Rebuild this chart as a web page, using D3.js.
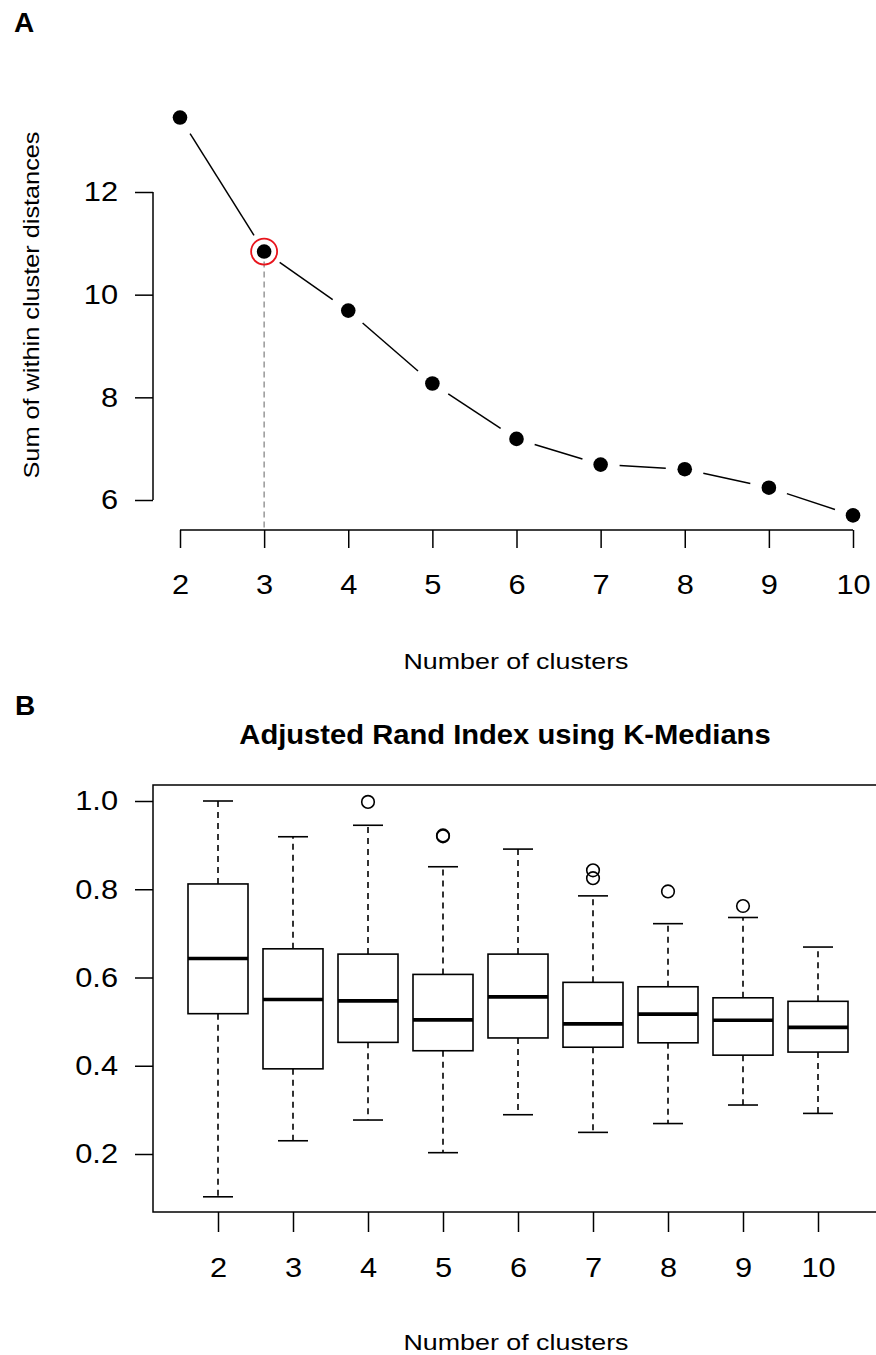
<!DOCTYPE html>
<html>
<head>
<meta charset="utf-8">
<script src="https://cdn.jsdelivr.net/npm/d3@7/dist/d3.min.js"></script>
<style>
    body { margin: 0; background: #fff; }
    svg text { font-family: "Liberation Sans", Arial, sans-serif; fill: #000; }
</style>
</head>
<body>
<svg id="fig" width="876" height="1355"></svg>
<script>
(function () {
    'use strict';

    // --- Data ------------------------------------------------------------

    // panel A: elbow curve
    var clusters = [2, 3, 4, 5, 6, 7, 8, 9, 10];
    var withinDist = [13.45, 10.84, 9.69, 8.27, 7.19, 6.69, 6.60, 6.24, 5.70];
    var chosenK = 3;
    var yTicksA = [6, 8, 10, 12];

    // panel B: adjusted rand index boxplots, one entry per cluster count
    var whiskLow = [0.103, 0.230, 0.277, 0.203, 0.289, 0.249, 0.269, 0.311, 0.292];
    var q1 = [0.518, 0.393, 0.453, 0.434, 0.463, 0.442, 0.452, 0.424, 0.431];
    var medians = [0.643, 0.550, 0.547, 0.504, 0.556, 0.495, 0.517, 0.503, 0.487];
    var q3 = [0.812, 0.665, 0.653, 0.607, 0.653, 0.589, 0.579, 0.554, 0.546];
    var whiskHigh = [1.0, 0.919, 0.945, 0.851, 0.891, 0.785, 0.722, 0.736, 0.669];
    var outliers = [[], [], [0.998], [0.920, 0.922], [], [0.843, 0.825], [0.795], [0.762], []];
    var yTicksB = [0.2, 0.4, 0.6, 0.8, 1.0];

    var svg = d3.select('#fig');

    // --- Helpers ---------------------------------------------------------

    // the figure's lettering is a little wider than plain Arial,
    // so stretch horizontally around each text's own anchor
    function stretch(sel, sx) {
        sel.each(function () {
            var t = d3.select(this),
                x0 = +t.attr('x') || 0;
            t.attr('transform', 'translate(' + (x0 * (1 - sx)) + ',0) scale(' + sx + ',1)');
        });
    }

    function styleTicks(axisG, size, sx) {
        axisG.attr('font-family', null).attr('font-size', null);
        axisG.selectAll('.tick line').attr('stroke-width', 1.5);
        axisG.selectAll('.tick text').style('font-size', size + 'px');
        stretch(axisG.selectAll('.tick text'), sx);
    }

    // --- Panel A ---------------------------------------------------------

    function drawPanelA() {
        var g = svg.append('g').attr('id', 'panelA'),
            x = d3.scaleLinear().domain([2, 10]).range([180, 853]),
            y = d3.scaleLinear().domain([6, 12]).range([500, 192]),
            pts = clusters.map(function (k, i) {
                return { k: k, x: x(k), y: y(withinDist[i]) };
            }),
            gap = 19,
            segs = [];

        g.append('text').text('A')
            .attr('x', 14).attr('y', 32)
            .style('font-size', '28px').style('font-weight', 'bold');

        // y axis (line only spans the ticks, like R)
        var ya = g.append('g').attr('transform', 'translate(153,0)')
            .call(d3.axisLeft(y).tickValues(yTicksA).tickSize(18).tickPadding(17)
                .tickFormat(d3.format('d')));
        ya.select('.domain').remove();
        ya.append('line').attr('y1', y(6)).attr('y2', y(12))
            .attr('stroke', '#000').attr('stroke-width', 1.5);
        styleTicks(ya, 28, 1.1);

        var xa = g.append('g').attr('transform', 'translate(0,530)')
            .call(d3.axisBottom(x).tickValues(clusters).tickSize(18).tickPadding(26)
                .tickFormat(d3.format('d')));
        xa.select('.domain').remove();
        xa.append('line').attr('x1', x(2)).attr('x2', x(10))
            .attr('stroke', '#000').attr('stroke-width', 1.5);
        styleTicks(xa, 28, 1.1);

        var xt = g.append('text').text('Number of clusters')
            .attr('x', 516).attr('y', 669).attr('text-anchor', 'middle')
            .style('font-size', '22px');
        stretch(xt, 1.22);

        g.append('text').text('Sum of within cluster distances')
            .attr('transform', 'translate(39,305) rotate(-90) scale(1.15,1)')
            .attr('text-anchor', 'middle')
            .style('font-size', '22px');

        // dashed guide from the chosen k down to the axis
        var ci = clusters.indexOf(chosenK);
        g.append('line')
            .attr('x1', x(chosenK)).attr('x2', x(chosenK))
            .attr('y1', pts[ci].y).attr('y2', 530)
            .attr('stroke', '#888').attr('stroke-width', 1.3)
            .attr('stroke-dasharray', '6,4');

        // type="b" : segments with gaps around points
        for (var i = 0; i < pts.length - 1; i++) {
            var a = pts[i], b = pts[i + 1],
                dx = b.x - a.x, dy = b.y - a.y,
                len = Math.sqrt(dx * dx + dy * dy);
            if (len > 2 * gap) {
                segs.push({
                    x1: a.x + dx * gap / len, y1: a.y + dy * gap / len,
                    x2: b.x - dx * gap / len, y2: b.y - dy * gap / len
                });
            }
        }
        g.selectAll('line.seg').data(segs).enter().append('line')
            .attr('class', 'seg')
            .attr('x1', function (d) { return d.x1; })
            .attr('y1', function (d) { return d.y1; })
            .attr('x2', function (d) { return d.x2; })
            .attr('y2', function (d) { return d.y2; })
            .attr('stroke', '#000').attr('stroke-width', 1.5);

        g.selectAll('circle.pt').data(pts).enter().append('circle')
            .attr('class', 'pt')
            .attr('cx', function (d) { return d.x; })
            .attr('cy', function (d) { return d.y; })
            .attr('r', 7.3).attr('fill', '#000');

        g.append('circle')
            .attr('cx', pts[ci].x).attr('cy', pts[ci].y).attr('r', 13)
            .attr('fill', 'none').attr('stroke', '#e8141c').attr('stroke-width', 1.8);
    }

    // --- Panel B ---------------------------------------------------------

    function drawPanelB() {
        var g = svg.append('g').attr('id', 'panelB'),
            x = d3.scaleLinear().domain([2, 10]).range([218, 818]),
            y = d3.scaleLinear().domain([0.2, 1.0]).range([1154, 801]),
            boxHalf = 30,
            capHalf = 15,
            stats = clusters.map(function (k, i) {
                return {
                    k: k, lo: whiskLow[i], q1: q1[i], med: medians[i],
                    q3: q3[i], hi: whiskHigh[i], out: outliers[i]
                };
            });

        g.append('text').text('B')
            .attr('x', 15).attr('y', 715)
            .style('font-size', '28px').style('font-weight', 'bold');

        var title = g.append('text').text('Adjusted Rand Index using K-Medians')
            .attr('x', 505).attr('y', 744).attr('text-anchor', 'middle')
            .style('font-size', '27px').style('font-weight', 'bold');
        stretch(title, 1.08);

        // frame
        g.append('rect')
            .attr('x', 153).attr('y', 785)
            .attr('width', 740).attr('height', 427)
            .attr('fill', 'none').attr('stroke', '#000').attr('stroke-width', 1.5);

        var ya = g.append('g').attr('transform', 'translate(153,0)')
            .call(d3.axisLeft(y).tickValues(yTicksB).tickSize(18).tickPadding(17)
                .tickFormat(d3.format('.1f')));
        ya.select('.domain').remove();
        styleTicks(ya, 28, 1.1);

        var xa = g.append('g').attr('transform', 'translate(0,1212)')
            .call(d3.axisBottom(x).tickValues(clusters).tickSize(20).tickPadding(25)
                .tickFormat(d3.format('d')));
        xa.select('.domain').remove();
        styleTicks(xa, 28, 1.1);

        var xt = g.append('text').text('Number of clusters')
            .attr('x', 516).attr('y', 1350).attr('text-anchor', 'middle')
            .style('font-size', '22px');
        stretch(xt, 1.22);

        var box = g.selectAll('g.box').data(stats).enter().append('g')
            .attr('class', 'box')
            .attr('transform', function (d) { return 'translate(' + x(d.k) + ',0)'; });

        // whiskers
        box.append('line')
            .attr('y1', function (d) { return y(d.q3); })
            .attr('y2', function (d) { return y(d.hi); })
            .attr('stroke', '#000').attr('stroke-width', 1.6)
            .attr('stroke-dasharray', '6,5');
        box.append('line')
            .attr('y1', function (d) { return y(d.q1); })
            .attr('y2', function (d) { return y(d.lo); })
            .attr('stroke', '#000').attr('stroke-width', 1.6)
            .attr('stroke-dasharray', '6,5');
        box.append('line')
            .attr('x1', -capHalf).attr('x2', capHalf)
            .attr('y1', function (d) { return y(d.hi); })
            .attr('y2', function (d) { return y(d.hi); })
            .attr('stroke', '#000').attr('stroke-width', 1.6);
        box.append('line')
            .attr('x1', -capHalf).attr('x2', capHalf)
            .attr('y1', function (d) { return y(d.lo); })
            .attr('y2', function (d) { return y(d.lo); })
            .attr('stroke', '#000').attr('stroke-width', 1.6);

        box.append('rect')
            .attr('x', -boxHalf).attr('width', 2 * boxHalf)
            .attr('y', function (d) { return y(d.q3); })
            .attr('height', function (d) { return y(d.q1) - y(d.q3); })
            .attr('fill', '#fff').attr('stroke', '#000').attr('stroke-width', 1.6);

        box.append('line')
            .attr('x1', -boxHalf).attr('x2', boxHalf)
            .attr('y1', function (d) { return y(d.med); })
            .attr('y2', function (d) { return y(d.med); })
            .attr('stroke', '#000').attr('stroke-width', 3.6);

        box.selectAll('circle').data(function (d) { return d.out; })
            .enter().append('circle')
            .attr('cy', function (v) { return y(v); })
            .attr('r', 6.3)
            .attr('fill', 'none').attr('stroke', '#000').attr('stroke-width', 1.6);
    }

    drawPanelA();
    drawPanelB();
}());
</script>
</body>
</html>
